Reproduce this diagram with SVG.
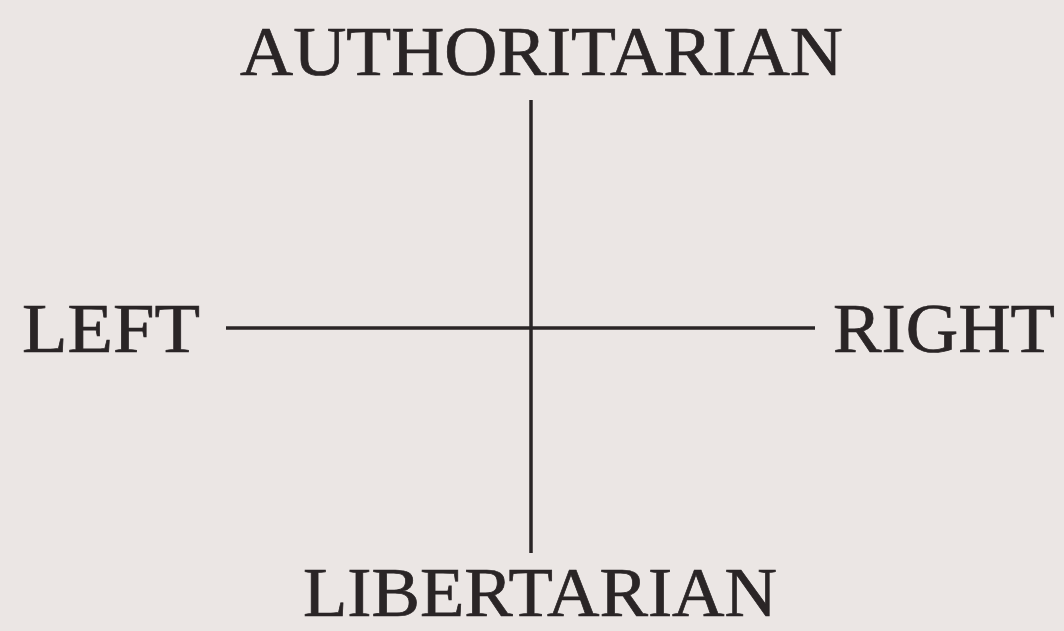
<svg xmlns="http://www.w3.org/2000/svg" width="1064" height="631" viewBox="0 0 1064 631">
<style>
.lbl{font-family:"Liberation Serif","Times New Roman",serif;font-size:70px;fill:#2a2526;stroke:#2a2526;stroke-width:0.7}
.ax{stroke:#2a2526;stroke-width:3.5;fill:none}
</style>
<rect x="0" y="0" width="1064" height="631" fill="#ebe6e4"/>
<g id="connectors">
<line class="ax" x1="531" y1="100" x2="531" y2="553"/>
<line class="ax" x1="226" y1="328" x2="815" y2="328"/>
</g>
<g id="authoritarian"><text class="lbl" x="240" y="75" textLength="603" lengthAdjust="spacingAndGlyphs">AUTHORITARIAN</text></g>
<g id="left"><text class="lbl" x="22" y="352" textLength="178" lengthAdjust="spacingAndGlyphs">LEFT</text></g>
<g id="right"><text class="lbl" x="833" y="352" textLength="222" lengthAdjust="spacingAndGlyphs">RIGHT</text></g>
<g id="libertarian"><text class="lbl" x="303" y="616" font-size="68" textLength="474" lengthAdjust="spacingAndGlyphs">LIBERTARIAN</text></g>
</svg>
